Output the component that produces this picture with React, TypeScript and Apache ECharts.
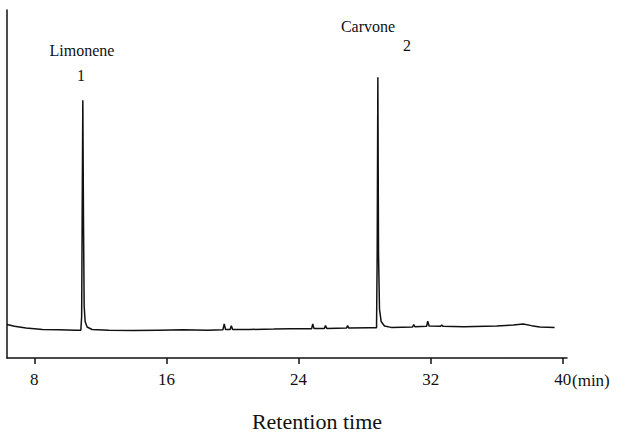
import React, { useEffect, useRef } from "react";
import * as echarts from "echarts";

// Chromatogram trace: [retention time (min), detector signal (arbitrary units)]
const trace: [number, number][] = [
  [6.35, 9.6], [6.8, 9.1], [7.5, 8.6], [8.5, 8.2], [9.5, 8.1], [10.5, 8.0], [10.82, 8.0],
  [10.87, 12], [10.9, 40], [10.94, 74.1], [10.98, 40], [11.02, 15], [11.08, 10.5], [11.2, 8.9],
  [11.5, 8.2], [12.5, 8.0], [14.0, 7.9], [15.5, 8.0], [17.0, 8.1], [18.5, 8.0],
  [19.42, 8.1], [19.5, 9.8], [19.58, 8.2], [19.86, 8.2], [19.93, 9.3], [20.01, 8.2],
  [21.0, 8.2], [22.5, 8.3], [23.5, 8.4], [24.79, 8.4], [24.86, 9.8], [24.93, 8.5],
  [25.56, 8.5], [25.63, 9.3], [25.71, 8.5], [26.9, 8.6], [26.97, 9.3], [27.04, 8.6],
  [28.3, 8.7], [28.72, 8.7], [28.76, 30], [28.8, 80.7], [28.84, 30], [28.9, 14],
  [29.0, 10.5], [29.2, 9.2], [29.6, 8.8], [30.9, 8.9], [30.97, 9.6], [31.04, 9.0],
  [31.75, 9.1], [31.82, 10.6], [31.9, 9.2], [32.6, 9.1], [32.67, 9.5], [32.74, 9.1],
  [34.0, 9.0], [36.0, 9.2], [37.0, 9.5], [37.6, 9.8], [38.1, 9.3], [38.6, 8.9], [39.5, 8.8],
];

const tickValues = [8, 16, 24, 32, 40];
const peakNames = ["Limonene", "Carvone"];
const peakNumbers = ["1", "2"];
const axisTitle = "Retention time";
const unitText = "(min)";

const FONT = "Liberation Serif";
const INK = "#111";

const txt = (x: number, y: number, text: string, size: number, align = "center") => ({
  type: "text",
  x,
  y,
  style: { text, fontFamily: FONT, fontSize: size, fill: INK, align, verticalAlign: "middle" },
});

export default function App() {
  const ref = useRef<HTMLDivElement>(null);
  useEffect(() => {
    if (!ref.current) return;
    const chart = echarts.init(ref.current, undefined, { renderer: "svg" });
    chart.setOption({
      animation: false,
      backgroundColor: "#fff",
      grid: { left: 7, right: 51, top: 10, bottom: 74 },
      xAxis: {
        type: "value",
        min: 6.35,
        max: 40.25,
        splitLine: { show: false },
        axisLine: { show: true, onZero: false, lineStyle: { color: INK, width: 1.5 } },
        axisTick: {
          show: true,
          customValues: tickValues,
          length: 6,
          inside: false,
          lineStyle: { color: INK, width: 1.5 },
        },
        axisLabel: {
          customValues: tickValues,
          color: INK,
          fontFamily: FONT,
          fontSize: 17,
          margin: 13,
        },
      },
      yAxis: {
        type: "value",
        min: 0,
        max: 100,
        splitLine: { show: false },
        axisLine: { show: true, lineStyle: { color: INK, width: 1.5 } },
        axisTick: { show: false },
        axisLabel: { show: false },
      },
      series: [
        {
          type: "line",
          data: trace,
          showSymbol: false,
          lineStyle: { color: INK, width: 1.5 },
        },
      ],
      graphic: [
        txt(82, 50, peakNames[0], 16),
        txt(81, 75, peakNumbers[0], 16),
        txt(368, 26, peakNames[1], 16),
        txt(407, 45, peakNumbers[1], 16),
        txt(572, 380, unitText, 17, "left"),
        txt(317, 421, axisTitle, 22),
      ],
    });
    return () => chart.dispose();
  }, []);
  return <div ref={ref} style={{ position: "fixed", left: 0, top: 0, width: 618, height: 432 }} />;
}
